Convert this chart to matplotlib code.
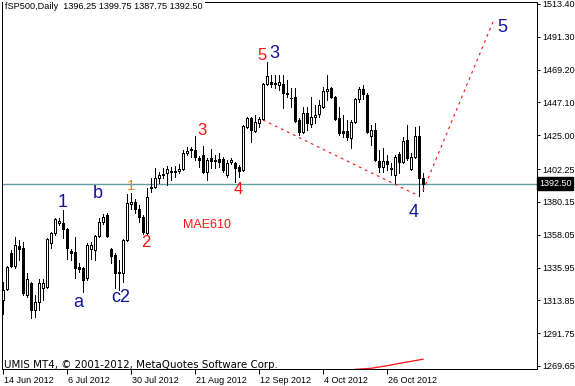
import numpy as np
import matplotlib
matplotlib.use('Agg')
import matplotlib.pyplot as plt
from matplotlib.transforms import ScaledTranslation, blended_transform_factory

# daily bars, 14 Jun 2012 onwards
opens = [1314.1, 1321.5, 1345.7, 1337.0, 1350.4, 1349.1, 1317.4, 1325.5, 1307.3, 1312.7,
         1322.2, 1322.8, 1352.5, 1359.2, 1365.9, 1365.9, 1361.9, 1347.1, 1346.4, 1336.3,
         1335.6, 1328.9, 1348.4, 1347.7, 1357.2, 1366.6, 1371.3, 1348.4, 1344.4, 1332.9,
         1332.3, 1354.5, 1378.7, 1380.1, 1375.3, 1370.0, 1359.2, 1389.5, 1390.2, 1396.2,
         1398.9, 1399.6, 1401.0, 1400.3, 1401.0, 1402.3, 1413.1, 1415.1, 1415.1, 1409.7,
         1411.7, 1400.3, 1409.7, 1407.7, 1409.0, 1409.0, 1398.3, 1407.0, 1406.3, 1403.6,
         1401.6, 1430.6, 1436.6, 1427.9, 1433.3, 1436.0, 1459.5, 1460.9, 1460.2, 1458.9,
         1459.5, 1453.5, 1450.4, 1450.8, 1435.3, 1427.2, 1440.0, 1432.6, 1437.3, 1439.3,
         1444.0, 1454.8, 1456.8, 1450.8, 1436.6, 1427.9, 1427.9, 1423.2, 1433.9, 1449.4,
         1456.2, 1452.1, 1424.5, 1428.6, 1407.7, 1403.6, 1407.7, 1402.9, 1398.3, 1412.4,
         1407.0, 1421.8, 1402.3, 1410.4, 1424.5, 1396.25]
highs = [1326.2, 1337.0, 1347.7, 1356.5, 1354.5, 1353.1, 1332.3, 1326.2, 1317.4, 1328.2,
         1328.2, 1355.8, 1359.9, 1369.3, 1369.3, 1374.7, 1362.6, 1348.4, 1356.5, 1339.0,
         1336.3, 1352.5, 1353.1, 1357.9, 1369.3, 1372.0, 1372.7, 1349.1, 1345.7, 1341.0,
         1355.2, 1385.5, 1386.1, 1382.1, 1378.0, 1371.3, 1389.5, 1396.2, 1402.9, 1400.3,
         1402.9, 1404.3, 1403.6, 1404.3, 1405.6, 1415.1, 1417.1, 1417.1, 1424.5, 1411.0,
         1417.8, 1409.7, 1415.8, 1411.7, 1413.1, 1410.4, 1408.4, 1409.7, 1407.0, 1405.0,
         1431.9, 1437.3, 1437.3, 1438.7, 1437.3, 1460.2, 1474.3, 1465.6, 1465.6, 1465.6,
         1465.6, 1462.2, 1456.8, 1456.8, 1436.6, 1444.0, 1444.0, 1450.8, 1445.4, 1448.8,
         1457.5, 1465.6, 1457.5, 1451.5, 1444.0, 1438.7, 1435.3, 1435.3, 1450.1, 1457.5,
         1458.9, 1453.5, 1431.9, 1433.3, 1415.1, 1416.4, 1411.7, 1406.3, 1411.7, 1413.7,
         1423.8, 1431.9, 1413.1, 1430.6, 1431.2, 1399.75]
lows = [1304.6, 1320.8, 1336.3, 1335.6, 1341.0, 1317.4, 1316.1, 1301.9, 1302.6, 1307.3,
        1314.1, 1322.2, 1349.1, 1357.9, 1364.6, 1355.8, 1341.7, 1341.0, 1328.9, 1332.9,
        1319.5, 1327.5, 1341.7, 1341.0, 1356.5, 1365.3, 1356.5, 1339.0, 1322.2, 1320.8,
        1326.2, 1353.8, 1375.3, 1372.7, 1366.6, 1358.5, 1358.5, 1386.8, 1389.5, 1392.9,
        1396.2, 1391.5, 1394.9, 1396.9, 1399.6, 1401.6, 1411.7, 1410.4, 1408.4, 1403.6,
        1399.6, 1394.9, 1402.9, 1402.9, 1403.6, 1400.3, 1396.9, 1405.6, 1393.5, 1396.9,
        1401.0, 1429.9, 1420.5, 1427.2, 1430.6, 1435.3, 1458.9, 1457.5, 1456.8, 1455.5,
        1443.4, 1450.8, 1444.0, 1433.9, 1425.2, 1426.5, 1428.6, 1430.6, 1433.3, 1437.3,
        1443.4, 1448.8, 1450.1, 1435.3, 1425.2, 1423.8, 1421.8, 1416.4, 1433.3, 1447.4,
        1449.4, 1426.5, 1418.5, 1407.7, 1400.3, 1400.3, 1401.6, 1398.3, 1392.9, 1399.6,
        1406.3, 1408.4, 1401.6, 1409.7, 1384.1, 1387.75]
closes = [1320.8, 1336.3, 1337.0, 1351.1, 1348.4, 1318.8, 1328.2, 1307.3, 1312.7, 1325.5,
          1325.5, 1355.2, 1359.2, 1368.6, 1367.3, 1361.9, 1349.1, 1345.7, 1335.6, 1334.9,
          1327.5, 1351.1, 1351.1, 1357.2, 1366.6, 1370.0, 1357.2, 1343.7, 1332.3, 1332.3,
          1354.5, 1379.4, 1380.1, 1375.3, 1370.0, 1359.9, 1383.4, 1390.2, 1396.2, 1398.3,
          1398.3, 1402.3, 1400.3, 1401.0, 1402.3, 1413.1, 1414.4, 1415.8, 1410.4, 1408.4,
          1400.3, 1408.4, 1407.7, 1408.4, 1407.0, 1401.6, 1406.3, 1408.4, 1402.9, 1401.0,
          1431.2, 1436.6, 1428.6, 1433.9, 1436.0, 1459.5, 1464.9, 1459.5, 1459.5, 1460.9,
          1453.5, 1452.8, 1449.8, 1434.6, 1427.2, 1440.0, 1433.3, 1437.3, 1438.7, 1445.4,
          1454.8, 1456.2, 1450.8, 1436.0, 1426.5, 1426.5, 1423.8, 1433.9, 1449.4, 1456.2,
          1452.8, 1427.2, 1428.6, 1408.4, 1403.6, 1407.7, 1405.6, 1402.3, 1410.4, 1407.0,
          1421.1, 1409.7, 1410.4, 1424.5, 1396.2, 1392.50]

date_labels = ['14 Jun 2012', '6 Jul 2012', '30 Jul 2012', '21 Aug 2012',
               '12 Sep 2012', '4 Oct 2012', '26 Oct 2012']
date_bars = [0, 16, 32, 48, 64, 80, 96]
price_ticks = [1513.40, 1491.30, 1469.20, 1447.10, 1425.00, 1402.25,
               1380.15, 1358.05, 1335.95, 1313.85, 1291.75, 1269.65]
last_price = 1392.50

# envelope line showing at the bottom edge
env_bars = [88, 92, 96, 99, 102, 105]
env_vals = [1267.4, 1268.1, 1269.8, 1271.4, 1272.8, 1274.2]

# dotted trend lines
trend1_bars = [65, 104]
trend1_vals = [1435.3, 1384.1]
trend2_bars = [105, 122.5]
trend2_vals = [1387.75, 1501.3]

# wave labels
wave_text = ['1', 'b', 'a', 'c2', '1', '2', '3', '4', '5', '3', '4', '5']
wave_bars = [15, 23.75, 18.75, 29.5, 32, 35.75, 49.75, 58.75, 64.75, 67.75, 102.75, 124.75]
wave_vals = [1379.4, 1386.1, 1312.1, 1316.1, 1390.8, 1352.5, 1427.9, 1388.2, 1478.4,
             1480.4, 1372.7, 1497.9]

BLUE = '#12129c'
RED = '#ff1010'
ORANGE = '#e8801e'
wave_colors = [BLUE, BLUE, BLUE, BLUE, ORANGE, RED, RED, RED, RED, BLUE, BLUE, BLUE]
wave_sizes = [13, 13, 13, 13, 10.5, 12, 12, 12, 12, 13, 13, 13]

plt.rcParams['font.family'] = ['Liberation Sans', 'DejaVu Sans']

W, H = 575, 386
fig = plt.figure(figsize=(W / 100, H / 100), dpi=100)
ax = fig.add_axes([2 / W, (H - 369) / H, 535 / W, 366.5 / H])

o = np.array(opens)
h = np.array(highs)
l = np.array(lows)
c = np.array(closes)
x = np.arange(len(o))

ax.axhline(last_price, color='#5f9ea0', lw=1, zorder=1)

ax.vlines(x, l, h, color='black', lw=0.72, zorder=2, antialiased=False)
up = c >= o
body_lo = np.minimum(o, c)
body_h = np.maximum(np.abs(c - o), 0.3)
ax.bar(x[up], body_h[up], bottom=body_lo[up], width=0.5, color='white',
       edgecolor='black', linewidth=0.72, zorder=3, antialiased=False)
ax.bar(x[~up], body_h[~up], bottom=body_lo[~up], width=0.5, color='black',
       edgecolor='black', linewidth=0.72, zorder=3, antialiased=False)

ax.plot(env_bars, env_vals, color=RED, lw=0.9, zorder=2)
ax.plot(trend1_bars, trend1_vals, color=RED, lw=0.8, dashes=(2.5, 3.5), zorder=4)
ax.plot(trend2_bars, trend2_vals, color=RED, lw=0.8, dashes=(2.5, 3.5), zorder=4)

for t, b, v, col, s in zip(wave_text, wave_bars, wave_vals, wave_colors, wave_sizes):
    ax.text(b, v, t, color=col, fontsize=s, ha='center', va='center', zorder=5)

ax.text(51, 1364.6, 'MAE610', color=RED, fontsize=9, ha='center', va='center')

ax.set_xlim(-0.25, 133.5)
ax.set_ylim(1267.62, 1514.41)

ax.yaxis.tick_right()
ax.set_yticks(price_ticks)
ax.set_yticklabels(['%.2f' % p for p in price_ticks], fontsize=6.5)
ax.tick_params(axis='y', direction='out', length=2.5, width=0.72, pad=1.2)

ax.set_xticks(date_bars)
ax.set_xticklabels(date_labels, fontsize=6.5)
ax.tick_params(axis='x', direction='out', length=3.5, width=0.72, pad=1.5)
for lab in ax.get_xticklabels():
    lab.set_horizontalalignment('left')
    lab.set_transform(lab.get_transform() + ScaledTranslation(1.5 / 100, 0, fig.dpi_scale_trans))

for sp in ax.spines.values():
    sp.set_color('black')
    sp.set_linewidth(0.72)

trans = blended_transform_factory(ax.transAxes, ax.transData)
ax.text(1.004, last_price, '%.2f' % last_price, transform=trans, ha='left', va='center',
        color='white', fontsize=6.5, clip_on=False,
        bbox=dict(facecolor='black', edgecolor='black', pad=1.3))

fig.text(5 / W, 1 - 6.5 / H, 'fSP500,Daily  1396.25 1399.75 1387.75 1392.50',
         fontsize=6.6, va='center', ha='left',
         bbox=dict(facecolor='white', edgecolor='none', pad=1.5))
fig.text(4 / W, (H - 368.5) / H, 'UMIS MT4, \u00a9 2001-2012, MetaQuotes Software Corp.',
         fontsize=7.4, va='baseline', ha='left', family=['DejaVu Sans'])

fig.savefig('out.png', dpi=100, facecolor='white')
